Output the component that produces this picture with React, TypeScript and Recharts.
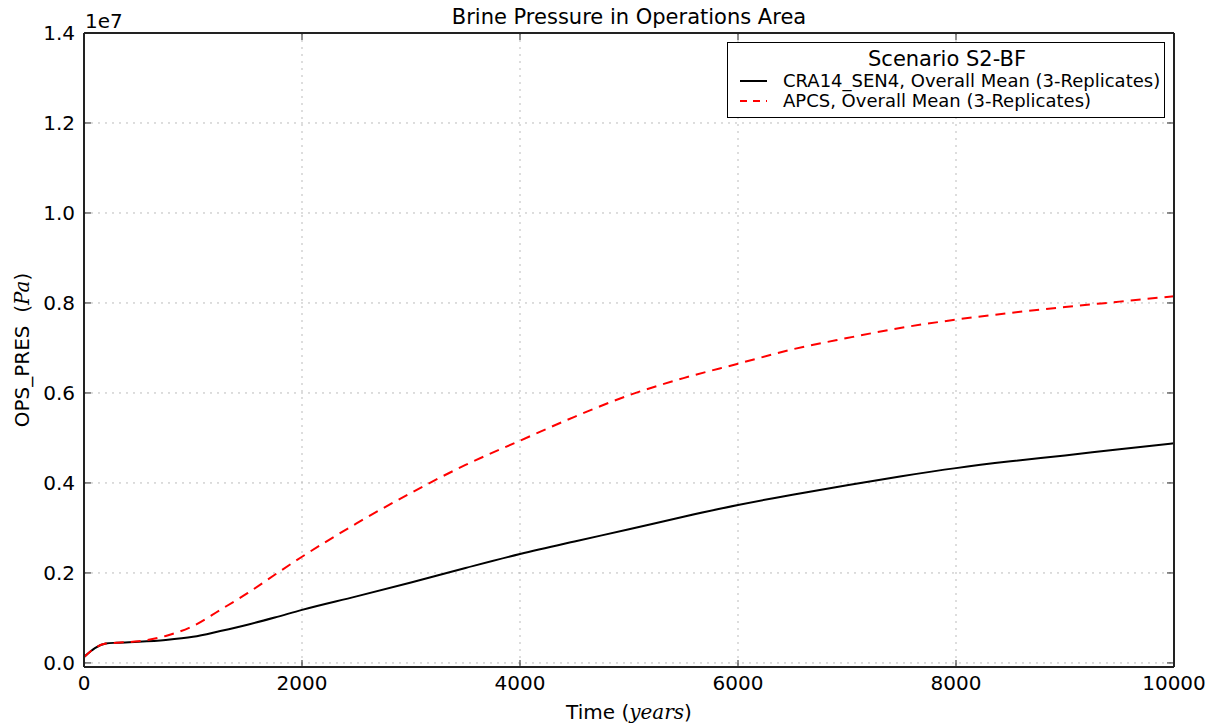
import React from 'react';
import {
  LineChart,
  Line,
  XAxis,
  YAxis,
  CartesianGrid,
  Legend,
  Label
} from 'recharts';

// time in years
const years = [0, 100, 200, 300, 500, 750, 1000, 1250, 1500, 1750, 2000, 2500, 3000, 3500, 4000, 4500, 5000, 5500, 6000, 6500, 7000, 7500, 8000, 8500, 9000, 9500, 10000];

// brine pressure, Pa
const cra14Sen4 = [130000, 330000, 430000, 450000, 470000, 510000, 580000, 710000, 850000, 1010000, 1180000, 1480000, 1790000, 2110000, 2420000, 2700000, 2970000, 3250000, 3510000, 3740000, 3950000, 4150000, 4330000, 4480000, 4610000, 4750000, 4880000];
const apcs = [130000, 330000, 430000, 450000, 480000, 600000, 820000, 1180000, 1550000, 1960000, 2360000, 3100000, 3780000, 4400000, 4940000, 5470000, 5950000, 6330000, 6650000, 6970000, 7220000, 7450000, 7630000, 7780000, 7910000, 8030000, 8150000];

const xTicks = [0, 2000, 4000, 6000, 8000, 10000];
const yTicks = [0, 2000000, 4000000, 6000000, 8000000, 10000000, 12000000, 14000000];

const seriesNames = {
  cra: 'CRA14_SEN4, Overall Mean (3-Replicates)',
  apcs: 'APCS, Overall Mean (3-Replicates)'
};

const data = years.map((t, i) => ({ t, cra: cra14Sen4[i], apcs: apcs[i] }));

const FONT = '"DejaVu Sans", sans-serif';
const AXIS = '#222';

const LeftTick = (p: any) => (
  <g>
    <text x={p.x - 9} y={p.y} textAnchor="end" dominantBaseline="central" fontSize={20} fill="#000" fontFamily={FONT}>
      {(p.payload.value / 1e7).toFixed(1)}
    </text>
    <line x1={p.x} x2={p.x + 7} y1={p.y} y2={p.y} stroke={AXIS} />
  </g>
);

const RightTick = (p: any) => (
  <line x1={p.x - 7} x2={p.x} y1={p.y} y2={p.y} stroke={AXIS} />
);

const BottomTick = (p: any) => (
  <g>
    <text x={p.x} y={p.y + 16} textAnchor="middle" dominantBaseline="central" fontSize={20} fill="#000" fontFamily={FONT}>
      {p.payload.value}
    </text>
    <line x1={p.x} x2={p.x} y1={p.y} y2={p.y - 7} stroke={AXIS} />
  </g>
);

const TopTick = (p: any) => (
  <line x1={p.x} x2={p.x} y1={p.y} y2={p.y + 7} stroke={AXIS} />
);

const xLabel = (p: any) => {
  const { x, y, width } = p.viewBox;
  return (
    <text x={x + width / 2} y={y + 52} textAnchor="middle" fontSize={20} fill="#000" fontFamily={FONT}>
      Time (<tspan fontStyle="italic" fontFamily='"DejaVu Serif", serif'>years</tspan>)
    </text>
  );
};

const yLabel = (p: any) => {
  const { y, height } = p.viewBox;
  const cy = y + height / 2;
  return (
    <g>
      <text x={29} y={cy} transform={`rotate(-90 29 ${cy})`} textAnchor="middle" fontSize={20} fill="#000" fontFamily={FONT} style={{ whiteSpace: 'pre' }}>
        {'OPS_PRES  ('}<tspan fontStyle="italic" fontFamily='"DejaVu Serif", serif'>Pa</tspan>)
      </text>
      <text x={85} y={28} fontSize={20} fill="#000" fontFamily={FONT}>1e7</text>
    </g>
  );
};

const titleLabel = (p: any) => {
  const { x, width } = p.viewBox;
  return (
    <text x={x + width / 2} y={24} textAnchor="middle" fontSize={21} fill="#000" fontFamily={FONT}>
      Brine Pressure in Operations Area
    </text>
  );
};

const renderLegend = () => (
  <div style={{ border: '1.5px solid #000', background: '#fff', fontFamily: FONT, padding: '4px 8px 6px 10px', boxSizing: 'border-box' }}>
    <div style={{ textAlign: 'center', fontSize: 21, lineHeight: '24px' }}>Scenario S2-BF</div>
    {(['cra', 'apcs'] as const).map((k) => (
      <div key={k} style={{ display: 'flex', alignItems: 'center', fontSize: 18, lineHeight: '20px' }}>
        <svg width={45} height={10} style={{ flex: 'none' }}>
          <line x1={2} x2={29} y1={5} y2={5} stroke={k === 'cra' ? '#000' : '#ff0000'} strokeWidth={2} strokeDasharray={k === 'cra' ? undefined : '7 6'} />
        </svg>
        <span style={{ whiteSpace: 'nowrap' }}>{seriesNames[k]}</span>
      </div>
    ))}
  </div>
);

export default function App() {
  return (
    <div style={{ position: 'absolute', left: 0, top: 0, background: '#fff' }}>
      <LineChart width={1216} height={727} data={data} margin={{ top: 32, right: 41, bottom: 0, left: 0 }}>
        <CartesianGrid stroke="#bbb" strokeDasharray="2 5" horizontalValues={yTicks} verticalValues={xTicks} />
        <XAxis dataKey="t" type="number" domain={[0, 10000]} ticks={xTicks} height={60}
          axisLine={{ stroke: AXIS, strokeWidth: 2 }} tickLine={false} tickSize={0} tickMargin={0} tick={BottomTick} interval={0}>
          <Label content={xLabel} />
        </XAxis>
        <XAxis xAxisId="top" orientation="top" dataKey="t" type="number" domain={[0, 10000]} ticks={xTicks} height={1}
          axisLine={{ stroke: AXIS, strokeWidth: 2 }} tickLine={false} tickSize={0} tickMargin={0} tick={TopTick} interval={0}>
          <Label content={titleLabel} />
        </XAxis>
        <YAxis type="number" domain={[-90000, 14000000]} ticks={yTicks} width={84} allowDataOverflow
          axisLine={{ stroke: AXIS, strokeWidth: 2 }} tickLine={false} tickSize={0} tickMargin={0} tick={LeftTick} interval={0}>
          <Label content={yLabel} />
        </YAxis>
        <YAxis yAxisId="right" orientation="right" type="number" domain={[-90000, 14000000]} ticks={yTicks} width={1} allowDataOverflow
          axisLine={{ stroke: AXIS, strokeWidth: 2 }} tickLine={false} tickSize={0} tickMargin={0} tick={RightTick} interval={0} />
        <Legend layout="horizontal" verticalAlign="middle" align="center" content={renderLegend}
          wrapperStyle={{ position: 'absolute', left: 727, top: 42, width: 438 }} />
        <Line type="monotone" dataKey="cra" name={seriesNames.cra} stroke="#000" strokeWidth={2} dot={false} isAnimationActive={false} />
        <Line type="monotone" dataKey="apcs" name={seriesNames.apcs} stroke="#ff0000" strokeWidth={2} strokeDasharray="10 7" dot={false} isAnimationActive={false} />
      </LineChart>
    </div>
  );
}
